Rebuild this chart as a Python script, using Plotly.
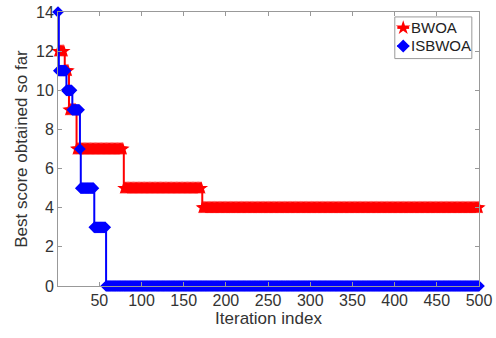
import numpy as np
import plotly.graph_objects as go

# Convergence curves: (level, last iteration at that level)
bwoa_levels = [12, 11, 9, 7, 5, 4]
bwoa_last_iter = [8, 13, 22, 78, 171, 500]

isbwoa_levels = [14, 11, 10, 9, 7, 5, 3, 0]
isbwoa_last_iter = [1, 10, 17, 26, 27, 43, 57, 500]

x_ticks = [50, 100, 150, 200, 250, 300, 350, 400, 450, 500]
y_ticks = [0, 2, 4, 6, 8, 10, 12, 14]

series_names = ["BWOA", "ISBWOA"]
series_colors = ["#ff0000", "#0000ff"]
series_symbols = ["star", "diamond"]


def expand(levels, last_iter):
    vals = []
    start = 1
    for lv, end in zip(levels, last_iter):
        vals += [lv] * (end - start + 1)
        start = end + 1
    return np.array(vals)


iters = np.arange(1, 501)
bwoa = expand(bwoa_levels, bwoa_last_iter)
isbwoa = expand(isbwoa_levels, isbwoa_last_iter)

FONT = "Liberation Sans, Arial"
TXT = "#333333"
AX = "#999999"

fig = go.Figure()
for y, name, col, sym, sz in [(bwoa, "BWOA", series_colors[0], "star", 10),
                               (isbwoa, "ISBWOA", series_colors[1], "diamond", 9)]:
    fig.add_trace(go.Scatter(
        x=iters, y=y, name=name, mode="lines+markers", showlegend=False,
        line=dict(color=col, width=2, shape="hv"),
        marker=dict(symbol=sym, size=sz, color=col),
        cliponaxis=False,
    ))

# ---- compact MATLAB-style legend drawn on an overlay axis (0..1 over plot area)
leg_x0, leg_x1, leg_y0, leg_y1 = 0.800, 0.983, 0.830, 0.982
row_y = [0.942, 0.876]
for i in range(2):
    fig.add_trace(go.Scatter(
        x=[0.806, 0.834], y=[row_y[i], row_y[i]], mode="lines",
        line=dict(color=series_colors[i], width=2), xaxis="x2", yaxis="y2",
        showlegend=False, hoverinfo="skip", cliponaxis=False,
    ))
    fig.add_trace(go.Scatter(
        x=[0.820], y=[row_y[i]], mode="markers",
        marker=dict(symbol=series_symbols[i], size=11 if i == 0 else 10, color=series_colors[i]),
        xaxis="x2", yaxis="y2", showlegend=False, hoverinfo="skip", cliponaxis=False,
    ))
    fig.add_annotation(
        x=0.834, y=row_y[i], xref="x2", yref="y2", text=series_names[i],
        showarrow=False, xanchor="left", yanchor="middle",
        font=dict(family=FONT, size=15, color="#222222"),
    )
fig.add_shape(type="rect", xref="x2", yref="y2", x0=leg_x0, x1=leg_x1, y0=leg_y0, y1=leg_y1,
              line=dict(color=AX, width=1), fillcolor="white", layer="below")

axis_common = dict(
    showline=True, linecolor=AX, linewidth=1, mirror="ticks",
    ticks="inside", ticklen=4, tickcolor=AX, showgrid=False,
    zeroline=False, automargin=False,
    tickfont=dict(family=FONT, size=16, color=TXT),
)

fig.update_layout(
    xaxis=dict(range=[1, 500], tickvals=x_ticks,
               title=dict(text="Iteration index", font=dict(family=FONT, size=17, color=TXT), standoff=2),
               **axis_common),
    yaxis=dict(range=[0, 14], tickvals=y_ticks,
               title=dict(text="Best score obtained so far", font=dict(family=FONT, size=17, color=TXT), standoff=4),
               **axis_common),
    xaxis2=dict(range=[0, 1], overlaying="x", visible=False, fixedrange=True),
    yaxis2=dict(range=[0, 1], overlaying="y", visible=False, fixedrange=True),
    width=496, height=338,
    margin=dict(l=58, r=17, t=12, b=52),
    paper_bgcolor="white", plot_bgcolor="white",
    showlegend=False,
)

fig.write_html("out.html", config={"displayModeBar": False},
               post_script="document.body.style.margin='0';")
